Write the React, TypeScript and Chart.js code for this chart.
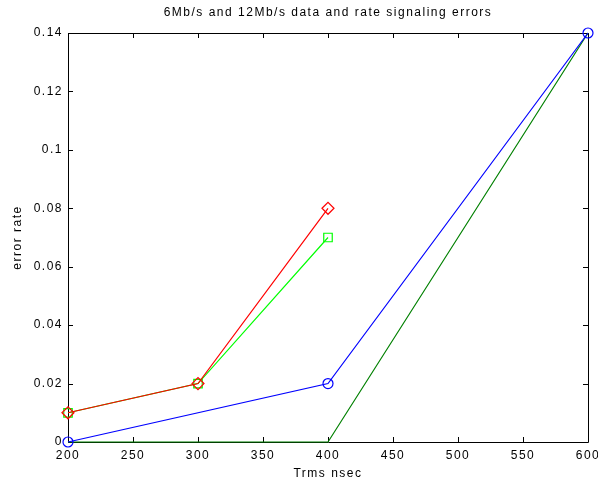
import React, { useEffect, useRef } from "react";
import { Chart, registerables } from "chart.js";

Chart.register(...registerables);

const titleText = "6Mb/s and 12Mb/s data and rate signaling errors";
const xTitle = "Trms nsec";
const yTitle = "error rate";

const xTicks = [200, 250, 300, 350, 400, 450, 500, 550, 600];
const yTicks = [0, 0.02, 0.04, 0.06, 0.08, 0.1, 0.12, 0.14];

const redX = [200, 300, 400];
const redY = [0.01, 0.02, 0.08];
const limeX = [200, 300, 400];
const limeY = [0.01, 0.02, 0.07];
const blueX = [200, 400, 600];
const blueY = [0, 0.02, 0.14];
const greenX = [200, 400, 600];
const greenY = [0, 0, 0.14];

const pts = (xs: number[], ys: number[]) => xs.map((x, i) => ({ x, y: ys[i] }));

const FONT = "12px 'Liberation Sans', Arial, sans-serif";
const LS = "1.5px";

const framePlugin = {
  id: "frame",
  beforeDraw(chart: any) {
    (chart.ctx as any).letterSpacing = LS;
  },
  beforeDatasetsDraw(chart: any) {
    const { ctx, chartArea: a, scales } = chart;
    ctx.save();
    ctx.strokeStyle = "#000";
    ctx.lineWidth = 1;
    ctx.beginPath();
    ctx.rect(Math.round(a.left) + 0.5, Math.round(a.top) + 0.5, Math.round(a.right - a.left), Math.round(a.bottom - a.top));
    const tl = 5;
    xTicks.forEach((v) => {
      const px = Math.round(scales.x.getPixelForValue(v)) + 0.5;
      ctx.moveTo(px, a.bottom);
      ctx.lineTo(px, a.bottom - tl);
      ctx.moveTo(px, a.top);
      ctx.lineTo(px, a.top + tl);
    });
    yTicks.forEach((v) => {
      const py = Math.round(scales.y.getPixelForValue(v)) + 0.5;
      ctx.moveTo(a.left, py);
      ctx.lineTo(a.left + tl, py);
      ctx.moveTo(a.right, py);
      ctx.lineTo(a.right - tl, py);
    });
    ctx.stroke();
    ctx.restore();
  },
  afterDraw(chart: any) {
    const { ctx, chartArea: a } = chart;
    ctx.save();
    (ctx as any).letterSpacing = LS;
    ctx.fillStyle = "#000";
    ctx.font = FONT;
    ctx.textAlign = "center";
    ctx.textBaseline = "middle";
    const cx = (a.left + a.right) / 2;
    ctx.fillText(titleText, cx, 13);
    ctx.fillText(xTitle, cx, 474);
    ctx.translate(18, (a.top + a.bottom) / 2);
    ctx.rotate(-Math.PI / 2);
    ctx.fillText(yTitle, 0, 0);
    ctx.restore();
  },
};

export default function App() {
  const ref = useRef<HTMLCanvasElement>(null);
  useEffect(() => {
    if (!ref.current) return;
    const common = { borderWidth: 1.2, pointRadius: 5, pointBorderWidth: 1.2, backgroundColor: "transparent", clip: false as any, tension: 0 };
    const chart = new Chart(ref.current, {
      type: "line",
      data: {
        datasets: [
          { ...common, label: "red", data: pts(redX, redY), borderColor: "#ff0000", pointBorderColor: "#ff0000", pointStyle: "rectRot", pointRadius: 6, order: 0 },
          { ...common, label: "lime", data: pts(limeX, limeY), borderColor: "#00ff00", pointBorderColor: "#00ff00", pointStyle: "rect", pointRadius: 6, order: 1 },
          { ...common, label: "blue", data: pts(blueX, blueY), borderColor: "#0000ff", pointBorderColor: "#0000ff", pointStyle: "circle", pointRadius: 5, order: 2 },
          { ...common, label: "green", data: pts(greenX, greenY), borderColor: "#008000", pointRadius: 0, order: 3 },
        ],
      },
      options: {
        responsive: false,
        animation: false,
        layout: { padding: { top: 33, right: 10, left: 0, bottom: 0 } },
        plugins: { legend: { display: false }, tooltip: { enabled: false }, title: { display: false } },
        scales: {
          x: {
            type: "linear",
            min: 200,
            max: 600,
            grid: { display: false, drawTicks: false },
            border: { display: false },
            afterFit: (s: any) => { s.height = 43; s.paddingLeft = 0; s.paddingRight = 0; },
            afterBuildTicks: (s: any) => { s.ticks = xTicks.map((v) => ({ value: v })); },
            ticks: { color: "#000", font: { family: "'Liberation Sans', Arial, sans-serif", size: 12 }, padding: 6, maxRotation: 0, autoSkip: false, callback: (v: any) => String(v) },
          },
          y: {
            type: "linear",
            min: 0,
            max: 0.14,
            grid: { display: false, drawTicks: false },
            border: { display: false },
            afterFit: (s: any) => { s.width = 68; s.paddingTop = 0; s.paddingBottom = 0; },
            afterBuildTicks: (s: any) => { s.ticks = yTicks.map((v) => ({ value: v })); },
            ticks: { color: "#000", font: { family: "'Liberation Sans', Arial, sans-serif", size: 12 }, padding: 5, autoSkip: false, callback: (v: any) => String(Number(Number(v).toFixed(2))) },
          },
        },
      },
      plugins: [framePlugin],
    });
    return () => chart.destroy();
  }, []);
  return (
    <div style={{ position: "fixed", left: 0, top: 0, width: 598, height: 485, background: "#fff" }}>
      <canvas ref={ref} width={598} height={485} />
    </div>
  );
}
